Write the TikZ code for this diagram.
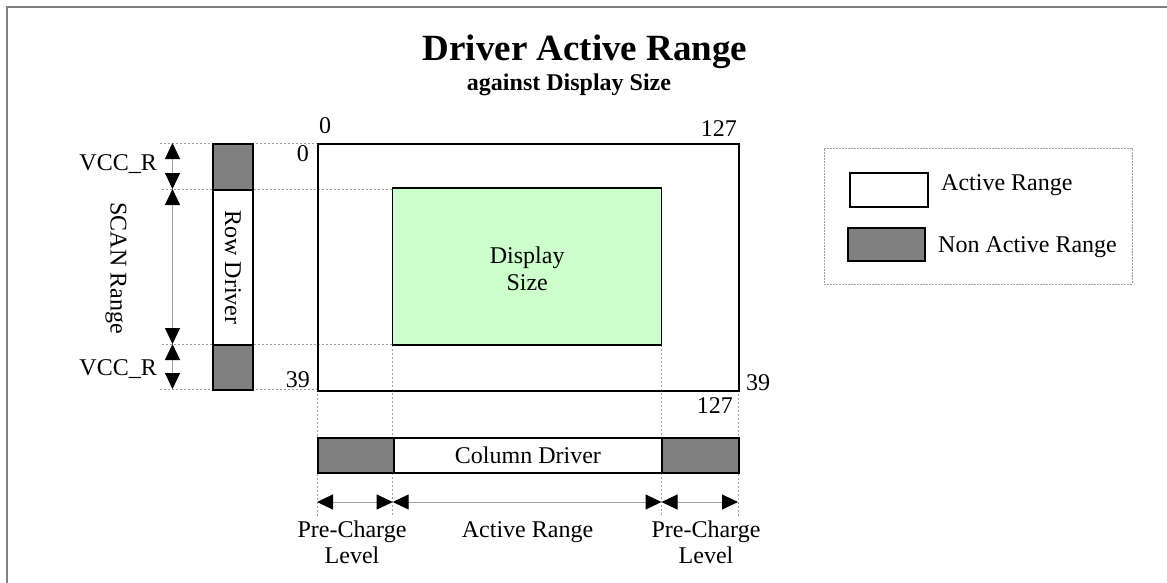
\documentclass[tikz,border=0pt]{standalone}
\usepackage{fontspec}
\setmainfont{Liberation Serif}
\usetikzlibrary{arrows.meta}
\definecolor{dgray}{HTML}{808080}
\definecolor{lgreen}{HTML}{CCFFCC}
\definecolor{guide}{HTML}{A0A0A0}
\begin{document}
\begin{tikzpicture}[x=1pt,y=-1pt,
  every node/.style={inner sep=0pt, font=\fontsize{24}{27}\selectfont},
  guideline/.style={draw=guide, line width=0.8pt, dash pattern=on 2pt off 2pt},
  box/.style={draw=black, line width=1.8pt},
  nonactive/.style={box, fill=dgray},
  activebox/.style={box, fill=white},
  dimarrow/.style={draw=guide, line width=1pt,
    {Triangle[length=16pt,width=15pt,color=black]}-{Triangle[length=16pt,width=15pt,color=black]}},
  lbl/.style={anchor=base}]
\useasboundingbox (0,0) rectangle (1167,583);
% frame
\draw[dgray, line width=2pt] (7,583) -- (7,7) -- (1167,7);
% title
\node[lbl, font=\fontsize{37}{40}\selectfont\bfseries] (title) at (585,61) {Driver Active Range};
\node[lbl, font=\fontsize{24}{27}\selectfont\bfseries] (subtitle) at (569,91) {against Display Size};
% guide lines
\coordinate (g0a) at (160,143); \coordinate (g0b) at (317,143);
\coordinate (g1a) at (162,189); \coordinate (g1b) at (393,189);
\coordinate (g2a) at (162,344); \coordinate (g2b) at (393,344);
\coordinate (g3a) at (160,389); \coordinate (g3b) at (317,389);
\draw[guideline] (g0a) -- (g0b);
\draw[guideline] (g1a) -- (g1b);
\draw[guideline] (g2a) -- (g2b);
\draw[guideline] (g3a) -- (g3b);
\coordinate (v0a) at (317,390); \coordinate (v0b) at (317,517);
\coordinate (v1a) at (392.7,345); \coordinate (v1b) at (392.7,517);
\coordinate (v2a) at (661.5,345); \coordinate (v2b) at (661.5,517);
\coordinate (v3a) at (738,390); \coordinate (v3b) at (738,517);
\draw[guideline] (v0a) -- (v0b);
\draw[guideline] (v1a) -- (v1b);
\draw[guideline] (v2a) -- (v2b);
\draw[guideline] (v3a) -- (v3b);
% main panel
\node[box, minimum width=421pt, minimum height=247pt, anchor=north west] (panel) at (317,143) {};
\node[draw=black, line width=1.5pt, fill=lgreen, minimum width=269pt, minimum height=157pt] (disp) at (527.2,266.5) {};
\node[lbl] (dispA) at (527.2,263) {Display};
\node[lbl] (dispB) at (527.2,290) {Size};
% coordinate labels
\node[lbl] (t0) at (325,134) {0};
\node[anchor=base east] (t127) at (737,136) {127};
\node[anchor=base east] (l0) at (309,161) {0};
\node[anchor=base east] (l39) at (310,387) {39};
\node[anchor=base west] (r39) at (746,390) {39};
\node[anchor=base east] (b127) at (733,413) {127};
% row driver
\node[nonactive, minimum width=40pt, minimum height=46pt, anchor=north west] (rtop) at (212,143) {};
\node[activebox, minimum width=40pt, minimum height=155pt, anchor=north west] (rmid) at (212,189) {};
\node[nonactive, minimum width=40pt, minimum height=45pt, anchor=north west] (rbot) at (212,344) {};
\node[rotate=-90] (rowtxt) at (rmid.center) {Row Driver};
% column driver
\node[nonactive, minimum width=76pt, minimum height=35pt, anchor=north west] (cl) at (317,437) {};
\node[activebox, minimum width=268pt, minimum height=35pt, anchor=north west] (cm) at (393,437) {Column Driver};
\node[nonactive, minimum width=77pt, minimum height=35pt, anchor=north west] (cr) at (661,437) {};
% vertical dimension arrows
\coordinate (va0) at (172.5,143);
\coordinate (va1) at (172.5,189);
\coordinate (va2) at (172.5,344);
\coordinate (va3) at (172.5,389);
\draw[dimarrow] (va0) -- (va1);
\draw[dimarrow] (va1) -- (va2);
\draw[dimarrow] (va2) -- (va3);
\node[anchor=base east] (vcc1) at (157,170) {VCC\_R};
\node[anchor=base east] (vcc2) at (157,375) {VCC\_R};
\node[rotate=-90] (scan) at (116,268) {SCAN Range};
% horizontal dimension arrows
\coordinate (ha0) at (317,502);
\coordinate (ha1) at (392.7,502);
\coordinate (ha2) at (661.5,502);
\coordinate (ha3) at (738,502);
\draw[dimarrow] (ha0) -- (ha1);
\draw[dimarrow] (ha1) -- (ha2);
\draw[dimarrow] (ha2) -- (ha3);
\node[lbl] (pcl1) at (352,537) {Pre-Charge};
\node[lbl] (pcl2) at (352,563) {Level};
\node[lbl] (act) at (527.5,537) {Active Range};
\node[lbl] (pcr1) at (706,537) {Pre-Charge};
\node[lbl] (pcr2) at (706,563) {Level};
% legend
\node[draw=guide, dash pattern=on 2pt off 1pt, line width=0.8pt, minimum width=308pt, minimum height=136pt, anchor=north west] (legend) at (824,148) {};
\node[activebox, minimum width=78pt, minimum height=34pt, anchor=north west] (lact) at (849,172) {};
\node[nonactive, minimum width=77pt, minimum height=33pt, anchor=north west] (lnon) at (847,227) {};
\node[anchor=base west] (lacttxt) at (941,190) {Active Range};
\node[anchor=base west] (lnontxt) at (938,252) {Non Active Range};
\end{tikzpicture}
\end{document}
